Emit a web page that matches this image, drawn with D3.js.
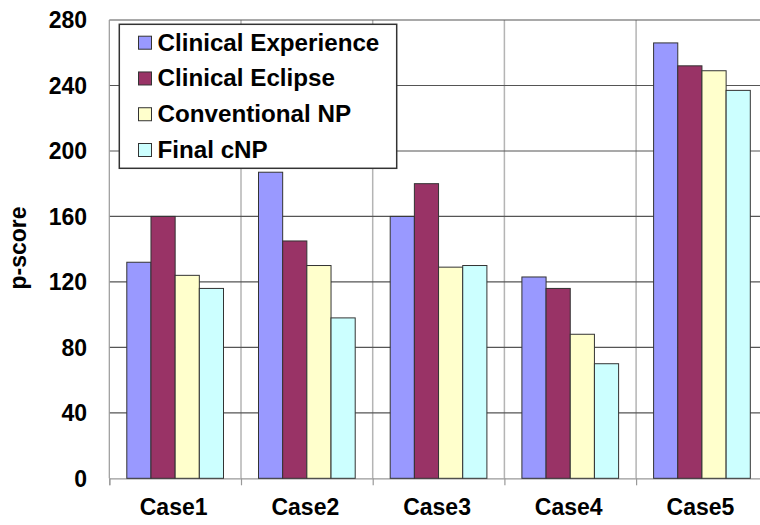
<!DOCTYPE html>
<html>
<head>
<meta charset="utf-8">
<script src="https://cdn.jsdelivr.net/npm/d3@7"></script>
<style>
  html, body { margin: 0; padding: 0; background: #fff; }
  svg { display: block; font-family: "Liberation Sans", Arial, sans-serif; font-weight: bold; }
</style>
</head>
<body>
<svg id="chart" width="760" height="525"></svg>
<script>
// p-score per case for each planning approach
const cases = ["Case1", "Case2", "Case3", "Case4", "Case5"];
const seriesNames = ["Clinical Experience", "Clinical Eclipse", "Conventional NP", "Final cNP"];
const clinicalExperience = [132, 187, 160, 123, 266];
const clinicalEclipse    = [160, 145, 180, 116, 252];
const conventionalNP     = [124, 130, 129, 88, 249];
const finalCNP           = [116, 98, 130, 70, 237];
const yTicks = [0, 40, 80, 120, 160, 200, 240, 280];
const seriesColors = ["#9999FF", "#993366", "#FFFFCC", "#CCFFFF"];

const seriesValues = [clinicalExperience, clinicalEclipse, conventionalNP, finalCNP];

const svg = d3.select("#chart");

const plot = { left: 109.3, top: 20, bottom: 478.3, band: 131.7 };
plot.right = plot.left + plot.band * cases.length;

const x0 = d3.scaleBand().domain(cases).range([plot.left, plot.right]).padding(0);
const groupPad = 17.5;
const x1 = d3.scaleBand().domain(seriesNames)
  .range([groupPad, x0.bandwidth() - groupPad]).padding(0);
const y = d3.scaleLinear().domain([0, 280]).range([plot.bottom, plot.top]);

// vertical separators between cases
svg.append("g").selectAll("line")
  .data(cases.slice(1))
  .join("line")
  .attr("x1", d => x0(d)).attr("x2", d => x0(d))
  .attr("y1", plot.top).attr("y2", plot.bottom)
  .attr("stroke", "#b4b4b4").attr("stroke-width", 1.5);

// horizontal gridlines
svg.append("g").selectAll("line")
  .data(yTicks.filter(t => t > 0))
  .join("line")
  .attr("x1", plot.left).attr("x2", plot.right)
  .attr("y1", d => y(d)).attr("y2", d => y(d))
  .attr("stroke", "#555").attr("stroke-width", 1.1);

// left axis line
svg.append("line")
  .attr("x1", plot.left).attr("x2", plot.left)
  .attr("y1", plot.top).attr("y2", plot.bottom)
  .attr("stroke", "#999").attr("stroke-width", 1.2);

// bottom axis with ticks at the case boundaries
const xAxis = d3.axisBottom(d3.scaleLinear().domain([0, cases.length]).range([plot.left, plot.right]))
  .tickValues(d3.range(cases.length + 1))
  .tickSize(7)
  .tickFormat("");
const gx = svg.append("g").attr("transform", `translate(0,${plot.bottom})`).call(xAxis);
gx.select(".domain").attr("stroke", "#999").attr("stroke-width", 1.2);
gx.selectAll(".tick line").attr("stroke", "#999").attr("stroke-width", 1.2);

// bars
const groups = svg.append("g").selectAll("g")
  .data(cases)
  .join("g")
  .attr("transform", d => `translate(${x0(d)},0)`);

groups.selectAll("rect")
  .data((c, i) => seriesNames.map((s, k) => ({ s, k, v: seriesValues[k][i] })))
  .join("rect")
  .attr("x", d => x1(d.s))
  .attr("y", d => y(d.v))
  .attr("width", x1.bandwidth())
  .attr("height", d => y(0) - y(d.v))
  .attr("fill", d => seriesColors[d.k])
  .attr("stroke", "#333")
  .attr("stroke-width", 1);

// y tick labels
svg.append("g").selectAll("text")
  .data(yTicks)
  .join("text")
  .attr("x", 87)
  .attr("y", d => y(d))
  .attr("dy", "0.36em")
  .attr("text-anchor", "end")
  .attr("font-size", 23)
  .attr("fill", "#000")
  .text(d => d);

// case labels
svg.append("g").selectAll("text")
  .data(cases)
  .join("text")
  .attr("x", d => x0(d) + x0.bandwidth() / 2 - 1.5)
  .attr("y", 515)
  .attr("text-anchor", "middle")
  .attr("font-size", 23)
  .attr("fill", "#000")
  .text(d => d);

// y axis title
svg.append("text")
  .attr("transform", "translate(26,248) rotate(-90)")
  .attr("text-anchor", "middle")
  .attr("font-size", 23)
  .attr("fill", "#000")
  .text("p-score");

// legend
const legend = svg.append("g");
legend.append("rect")
  .attr("x", 119.3).attr("y", 24.3)
  .attr("width", 277.4).attr("height", 144)
  .attr("fill", "#fff").attr("stroke", "#333").attr("stroke-width", 1.5);

const rowY = d3.scalePoint().domain(seriesNames).range([42.7, 150]);
const rows = legend.selectAll("g.row")
  .data(seriesNames)
  .join("g")
  .attr("class", "row");
rows.append("rect")
  .attr("x", 138.5)
  .attr("y", d => rowY(d) - 6.5)
  .attr("width", 13).attr("height", 13)
  .attr("fill", (d, i) => seriesColors[i])
  .attr("stroke", "#333").attr("stroke-width", 1);
rows.append("text")
  .attr("x", 157.5)
  .attr("y", d => rowY(d) + 8)
  .attr("font-size", 24.2)
  .attr("fill", "#000")
  .text(d => d);
</script>
</body>
</html>
